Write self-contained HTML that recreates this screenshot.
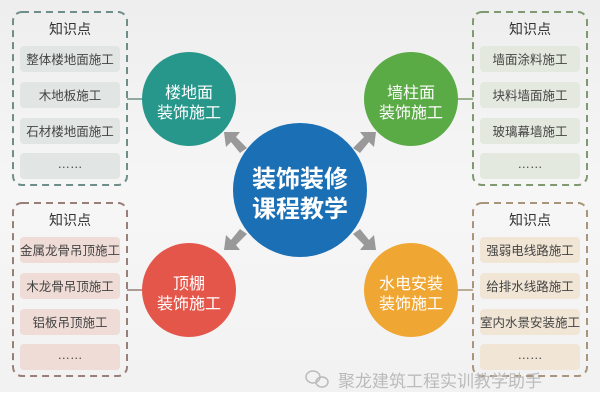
<!DOCTYPE html>
<html><head><meta charset="utf-8"><style>
body{margin:0;width:600px;height:409px;overflow:hidden;background:#fff}
svg text{font-family:"Liberation Sans","Noto Sans CJK SC",sans-serif}
</style></head><body>
<svg width="600" height="409" viewBox="0 0 600 409">
<defs><linearGradient id="bg" x1="0" y1="0" x2="0" y2="1"><stop offset="0" stop-color="#eeeeee"/><stop offset="0.5" stop-color="#f6f6f6"/><stop offset="1" stop-color="#f2f2f2"/></linearGradient></defs>
<rect x="0" y="0" width="600" height="392" fill="url(#bg)"/>
<!-- boxes -->
<g fill="none" stroke-width="2" stroke-dasharray="7,5">
<rect x="13" y="12" width="114" height="173" rx="9" stroke="#6f8e8a"/>
<rect x="473" y="12" width="114" height="173" rx="9" stroke="#7f9a70"/>
<rect x="13" y="203" width="114" height="173" rx="9" stroke="#9a7f78"/>
<rect x="473" y="203" width="114" height="173" rx="9" stroke="#a8957a"/>
</g>
<g font-size="14" fill="#333" text-anchor="middle">
<text x="70" y="34">知识点</text><text x="530" y="34">知识点</text>
<text x="70" y="225">知识点</text><text x="530" y="225">知识点</text>
</g>
<g fill="#e1e5e4">
<rect x="20" y="46" width="100" height="26" rx="4"/><rect x="20" y="82" width="100" height="26" rx="4"/><rect x="20" y="118" width="100" height="26" rx="4"/><rect x="20" y="153" width="100" height="26" rx="4"/>
</g>
<g fill="#e4e9df">
<rect x="480" y="46" width="100" height="26" rx="4"/><rect x="480" y="82" width="100" height="26" rx="4"/><rect x="480" y="118" width="100" height="26" rx="4"/><rect x="480" y="153" width="100" height="26" rx="4"/>
</g>
<g fill="#efdcd6">
<rect x="20" y="237" width="100" height="26" rx="4"/><rect x="20" y="273" width="100" height="26" rx="4"/><rect x="20" y="309" width="100" height="26" rx="4"/><rect x="20" y="344" width="100" height="26" rx="4"/>
</g>
<g fill="#f1e6d6">
<rect x="480" y="237" width="100" height="26" rx="4"/><rect x="480" y="273" width="100" height="26" rx="4"/><rect x="480" y="309" width="100" height="26" rx="4"/><rect x="480" y="344" width="100" height="26" rx="4"/>
</g>
<g font-size="12.5" fill="#444" text-anchor="middle">
<text x="70" y="64">整体楼地面施工</text><text x="70" y="100">木地板施工</text><text x="70" y="136">石材楼地面施工</text><text x="70" y="168">……</text>
<text x="530" y="64">墙面涂料施工</text><text x="530" y="100">块料墙面施工</text><text x="530" y="136">玻璃幕墙施工</text><text x="530" y="168">……</text>
<text x="70" y="255">金属龙骨吊顶施工</text><text x="70" y="291">木龙骨吊顶施工</text><text x="70" y="327">铝板吊顶施工</text><text x="70" y="359">……</text>
<text x="530" y="255">强弱电线路施工</text><text x="530" y="291">给排水线路施工</text><text x="530" y="327">室内水景安装施工</text><text x="530" y="359">……</text>
</g>
<!-- connectors -->
<g stroke-width="1.5">
<line x1="127" y1="99" x2="142" y2="99" stroke="#6f8e8a"/>
<line x1="458" y1="99" x2="473" y2="99" stroke="#7f9a70"/>
<line x1="127" y1="290" x2="142" y2="290" stroke="#9a7f78"/>
<line x1="458" y1="290" x2="473" y2="290" stroke="#a8957a"/>
</g>
<!-- arrows -->
<g fill="#999">
<polygon points="224,132 240,132 236,137 247,148 240,153 231,142 226,147"/>
<polygon points="376,132 360,132 364,137 353,148 360,153 369,142 374,147"/>
<polygon points="224,250 240,250 236,245 247,234 240,229 231,240 226,235"/>
<polygon points="376,250 360,250 364,245 353,234 360,229 369,240 374,235"/>
</g>
<!-- circles -->
<circle cx="300" cy="190" r="67" fill="#1a6fb5"/>
<circle cx="189" cy="99" r="47" fill="#26978a"/>
<circle cx="411" cy="99" r="47" fill="#5aaa45"/>
<circle cx="189" cy="290" r="47" fill="#e4564a"/>
<circle cx="411" cy="290" r="47" fill="#f0a632"/>
<g fill="#fff" text-anchor="middle">
<text x="300" y="187" font-size="24" font-weight="bold">装饰装修</text>
<text x="300" y="217" font-size="24" font-weight="bold">课程教学</text>
<g font-size="16">
<text x="189" y="98">楼地面</text><text x="189" y="118">装饰施工</text>
<text x="411" y="98">墙柱面</text><text x="411" y="118">装饰施工</text>
<text x="189" y="289">顶棚</text><text x="189" y="309">装饰施工</text>
<text x="411" y="289">水电安装</text><text x="411" y="309">装饰施工</text>
</g></g>
<!-- watermark -->
<g fill="none" stroke="#bbb" stroke-width="1.5"><ellipse cx="313" cy="377" rx="7" ry="6"/><ellipse cx="322" cy="382" rx="6" ry="5"/></g>
<text x="338" y="387" font-size="17" fill="#bbb">聚龙建筑工程实训教学助手</text>
</svg>
</body></html>
